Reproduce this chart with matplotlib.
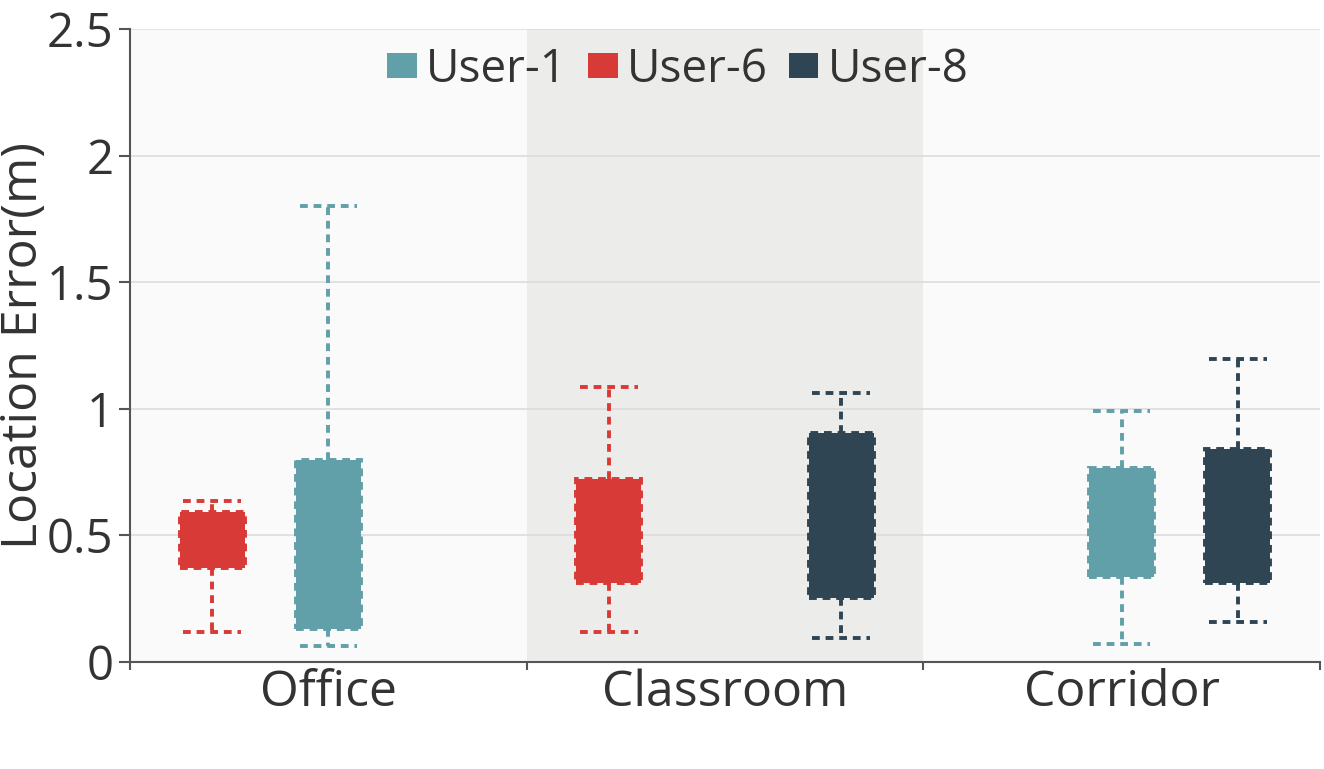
import matplotlib
matplotlib.use('Agg')
from matplotlib import pyplot as plt
from matplotlib.patches import Patch

plt.rcParams['font.family'] = ['Open Sans', 'DejaVu Sans']

# Data: [low whisker, q1, median, q3, high whisker]
scenes = ['Office', 'Classroom', 'Corridor']
users = ['User-1', 'User-6', 'User-8']
colors = {'User-1': '#61a0a8', 'User-6': '#d83a37', 'User-8': '#2f4554'}

user1_stats = [[0.062, 0.128, 0.45, 0.796, 1.80],
               None,
               [0.069, 0.335, 0.55, 0.764, 0.991]]
user6_stats = [[0.115, 0.368, 0.48, 0.592, 0.634],
               [0.118, 0.309, 0.52, 0.721, 1.086],
               None]
user8_stats = [None,
               [0.092, 0.250, 0.58, 0.902, 1.060],
               [0.157, 0.311, 0.58, 0.839, 1.194]]

# slot of each user inside a category
offsets = {'User-6': -0.293, 'User-1': 0.0, 'User-8': 0.293}
all_stats = {'User-1': user1_stats, 'User-6': user6_stats, 'User-8': user8_stats}

fig = plt.figure(figsize=(13.24, 7.69), dpi=100)
ax = fig.add_axes([130 / 1324, 107.5 / 769, 1190 / 1324, 632.5 / 769])
ax.set_facecolor('#fafafa')
ax.axvspan(0.5, 1.5, color='#ececea', zorder=0, lw=0)

dash = (0, (2.0, 1.5))
for user in users:
    for i, s in enumerate(all_stats[user]):
        if s is None:
            continue
        c = colors[user]
        st = [{'whislo': s[0], 'q1': s[1], 'med': s[2], 'q3': s[3], 'whishi': s[4]}]
        ax.bxp(st, positions=[i + offsets[user]], widths=0.164, capwidths=0.145,
               showfliers=False, patch_artist=True,
               boxprops=dict(facecolor=c, edgecolor=c, linestyle=dash, linewidth=2.8),
               whiskerprops=dict(color=c, linestyle=dash, linewidth=2.8),
               capprops=dict(color=c, linestyle=dash, linewidth=2.8),
               medianprops=dict(linewidth=0),
               manage_ticks=False, zorder=3)

ax.set_xlim(-0.5, 2.5)
ax.set_ylim(0, 2.5)
ax.set_yticks([0, 0.5, 1, 1.5, 2, 2.5])
ax.set_yticklabels(['0', '0.5', '1', '1.5', '2', '2.5'])
ax.set_xticks([0, 1, 2])
ax.set_xticklabels(scenes)
ax.set_xticks([-0.5, 0.5, 1.5, 2.5], minor=True)
ax.tick_params(axis='x', which='major', length=0, pad=5, labelsize=36, labelcolor='#333333')
ax.tick_params(axis='x', which='minor', length=6, width=1.5, color='#555555')
ax.tick_params(axis='y', length=8, width=1.5, color='#555555', pad=4,
               labelsize=34, labelcolor='#333333')

ax.grid(axis='y', color='#dcdcdc', linewidth=1.2)
ax.set_axisbelow(True)
for side in ['top', 'right']:
    ax.spines[side].set_visible(False)
for side in ['left', 'bottom']:
    ax.spines[side].set_color('#555555')
    ax.spines[side].set_linewidth(1.5)

ax.set_ylabel('Location Error(m)', fontsize=36, color='#333333')
ax.yaxis.set_label_coords(-0.068, 0.5)

handles = [Patch(facecolor=colors[u], edgecolor='none', label=u) for u in users]
fig.legend(handles=handles, loc='center', bbox_to_anchor=(0.512, 0.909), ncol=3,
           frameon=False, fontsize=33, handlelength=0.65, handleheight=0.45,
           handletextpad=0.2, columnspacing=0.45, labelcolor='#333333')

fig.savefig('out.png', dpi=100)
